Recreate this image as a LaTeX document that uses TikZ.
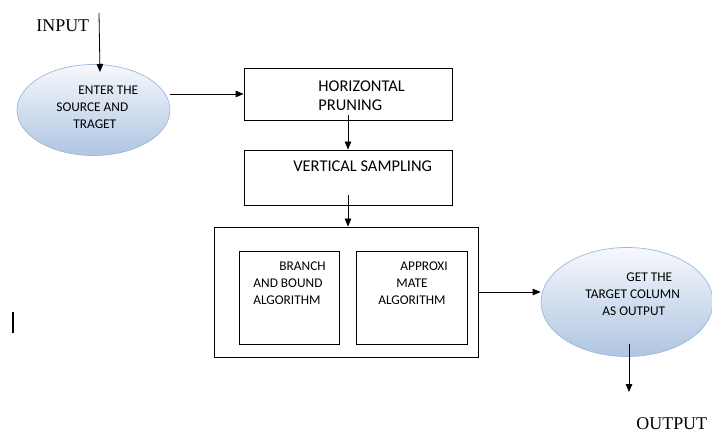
\documentclass[tikz,border=0pt]{standalone}
\usepackage{fontspec}
\setmainfont{Liberation Serif}
\newfontfamily\carl{Carlito}
\usepackage{xcolor}
\usetikzlibrary{arrows.meta,positioning,calc,shapes.geometric}
\definecolor{ovaltop}{HTML}{F6F8FC}
\definecolor{ovalbot}{HTML}{AFC5E2}
\definecolor{ovalline}{HTML}{9DB7D9}
\tikzset{
  box/.style={draw, line width=0.8bp, inner sep=0pt},
  oval/.style={ellipse, draw=ovalline, line width=0.7bp, top color=ovaltop, bottom color=ovalbot, inner sep=0pt},
  bigtxt/.style={font=\carl\fontsize{16.5}{19}\selectfont, align=left, anchor=west, inner sep=0pt},
  smalltxt/.style={font=\carl\fontsize{13.4}{17}\selectfont, align=left, anchor=west, inner sep=0pt},
  iotxt/.style={font=\fontsize{18}{20}\selectfont, anchor=west, inner sep=0pt}
}
\begin{document}
\begin{tikzpicture}[x=1bp, y=-1bp, >={Triangle[length=8bp,width=6.5bp]}, line width=0.8bp]
        \useasboundingbox (0,0) rectangle (712,434);
        % Input side
        \node[iotxt] (input) at (36,26) {INPUT};
        \coordinate (intop) at (99,13);
        \coordinate (intip) at (100,72);
        \node[oval, minimum width=153bp, minimum height=91bp] (src) at (93.5,110) {};
        \node[smalltxt] (srctxt) at (56,107.5) {\hspace*{22bp}ENTER THE\\SOURCE AND\\\hspace*{17bp}TRAGET};
        \draw[->] (intop) -- (intip);
        
        % Pruning and sampling
        \node[box, minimum width=208bp, minimum height=52bp] (hp) at (348,94) {};
        \node[bigtxt] (hptxt) at (318,95.5) {HORIZONTAL\\PRUNING};
        \node[box, minimum width=208bp, minimum height=55bp] (vs) at (348,177.5) {};
        \node[bigtxt] (vstxt) at (293,166) {VERTICAL SAMPLING};
        \draw[->] (src.east |- hp.west) -- (hp.west);
        \draw[->, shorten <=-5bp] (hp.south) -- (hp.south |- vs.north);
        
        % Algorithms
        \node[box, minimum width=264bp, minimum height=130bp] (alg) at (346,292) {};
        \node[box, minimum width=100bp, minimum height=93bp] (bb) at (289,297.5) {};
        \node[box, minimum width=111bp, minimum height=93bp] (ap) at (411.5,297.5) {};
        \node[smalltxt] (bbtxt) at (253,283.5) {\hspace*{26bp}BRANCH\\AND BOUND\\ALGORITHM};
        \node[smalltxt] (aptxt) at (378,283.5) {\hspace*{22bp}APPROXI\\\hspace*{18bp}MATE\\ALGORITHM};
        \draw[->, shorten <=-10bp] (vs.south) -- (vs.south |- alg.north);
        
        % Output side
        \node[oval, minimum width=172bp, minimum height=109bp] (get) at (627,302) {};
        \node[smalltxt] (gettxt) at (585,294.5) {\hspace*{41bp}GET THE\\TARGET COLUMN\\\hspace*{17bp}AS OUTPUT};
        \draw[->] (alg.east) -- (alg.east -| get.west);
        \coordinate (outtip) at (629,392);
        \draw[->, shorten <=-13bp] (get.south -| outtip) -- (outtip);
        \node[iotxt] (output) at (636,424) {OUTPUT};
        
        \draw[line width=2bp] (13,312) -- (13,333);
\end{tikzpicture}
\end{document}
